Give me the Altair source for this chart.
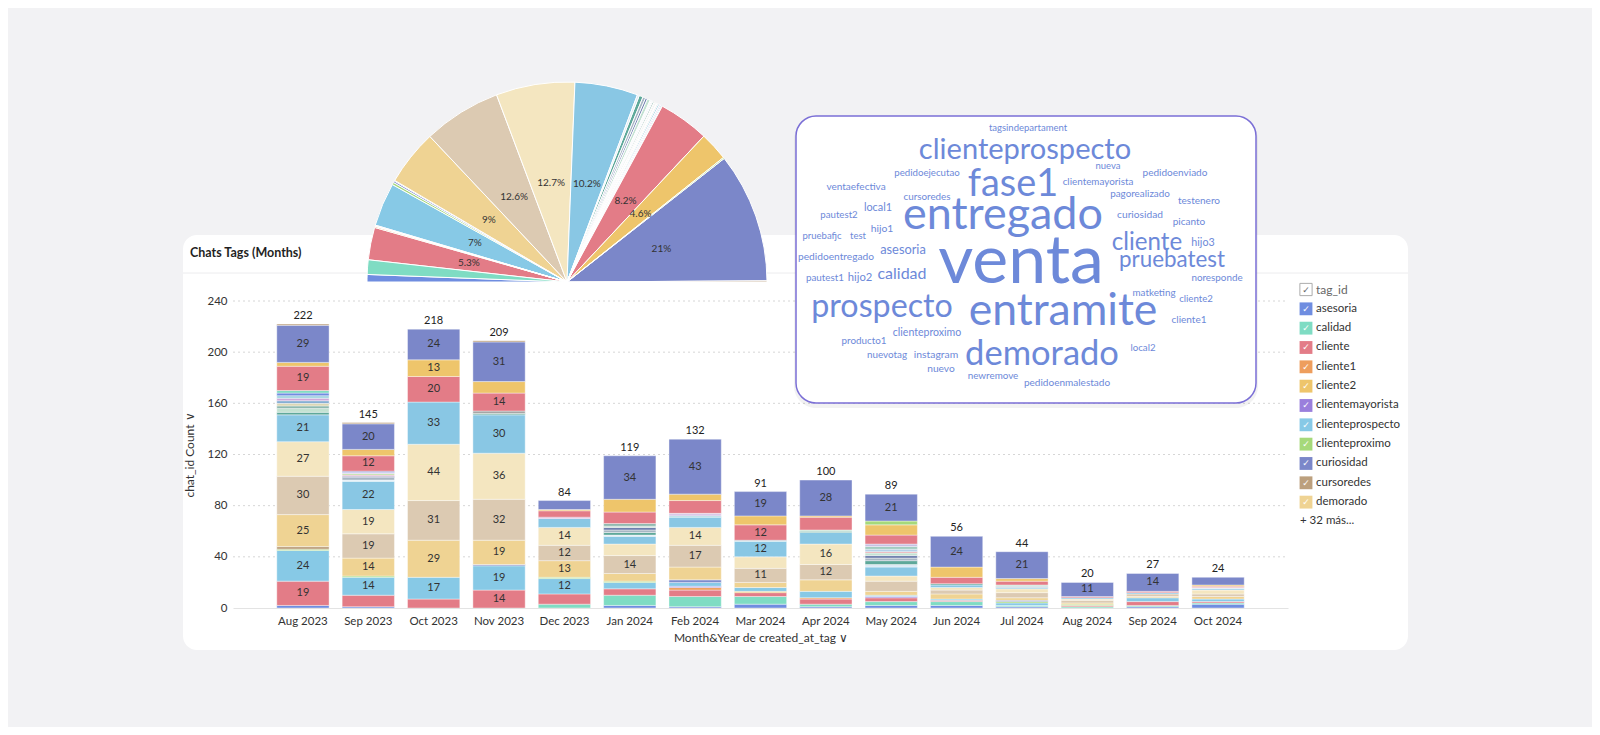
import altair as alt
import pandas as pd

# ---------------- data ----------------
months = ["Aug 2023", "Sep 2023", "Oct 2023", "Nov 2023", "Dec 2023", "Jan 2024", "Feb 2024",
          "Mar 2024", "Apr 2024", "May 2024", "Jun 2024", "Jul 2024", "Aug 2024", "Sep 2024", "Oct 2024"]

tags = ["asesoria", "calidad", "cliente", "cliente1", "cliente2", "clientemayorista", "clienteprospecto",
        "clienteproximo", "curiosidad", "cursoredes", "demorado", "entramite", "entregado", "fase1",
        "hijo1", "hijo2", "hijo3", "instagram", "local1", "local2", "matketing", "newremove", "noresponde",
        "nueva", "nuevo", "nuevotag", "pagorealizado", "pautest1", "pautest2", "pedidoejecutao",
        "pedidoenmalestado", "pedidoentregado", "pedidoenviado", "picanto", "producto1", "prospecto",
        "pruebafjc", "pruebatest", "tagsindepartament", "test", "testenero", "venta", "ventaefectiva"]

aug_2023 = {"asesoria": 2, "cliente": 19, "clienteprospecto": 24, "clienteproximo": 1, "cursoredes": 2,
            "demorado": 25, "entramite": 30, "entregado": 27, "fase1": 21, "hijo2": 2, "local1": 3, "nuevo": 2,
            "nuevotag": 2, "pautest1": 2, "pedidoenmalestado": 2, "pedidoentregado": 2, "picanto": 2,
            "producto1": 2, "prospecto": 19, "pruebatest": 3, "venta": 29, "ventaefectiva": 1}
sep_2023 = {"asesoria": 1, "cliente": 9, "clienteprospecto": 14, "clienteproximo": 1, "demorado": 14,
            "entramite": 19, "entregado": 19, "fase1": 22, "hijo1": 1, "hijo3": 2, "instagram": 1, "pautest2": 1,
            "pedidoejecutao": 1, "pedidoenviado": 1, "picanto": 1, "prospecto": 12, "pruebatest": 5,
            "venta": 20, "ventaefectiva": 1}
oct_2023 = {"cliente": 7, "clienteprospecto": 17, "demorado": 29, "entramite": 31, "entregado": 44,
            "fase1": 33, "prospecto": 20, "pruebatest": 13, "venta": 24}
nov_2023 = {"cliente": 14, "clienteprospecto": 19, "curiosidad": 1, "demorado": 19, "entramite": 32,
            "entregado": 36, "fase1": 30, "hijo2": 1, "pagorealizado": 2, "prospecto": 14, "pruebatest": 9,
            "venta": 31, "ventaefectiva": 1}
dec_2023 = {"calidad": 3, "cliente": 8, "clienteprospecto": 12, "clienteproximo": 1, "demorado": 13,
            "entramite": 12, "entregado": 14, "fase1": 7, "pedidoenmalestado": 1, "prospecto": 5,
            "pruebatest": 1, "venta": 7}
jan_2024 = {"asesoria": 2, "calidad": 8, "cliente": 5, "clienteprospecto": 5, "clienteproximo": 1,
            "demorado": 6, "entramite": 14, "entregado": 9, "fase1": 6, "hijo1": 1, "hijo2": 2, "hijo3": 2,
            "instagram": 2, "local1": 1, "nuevo": 2, "prospecto": 9, "pruebatest": 10, "venta": 34}
feb_2024 = {"asesoria": 1, "calidad": 8, "cliente": 5, "cliente1": 2, "clientemayorista": 1,
            "clienteprospecto": 3, "curiosidad": 2, "demorado": 10, "entramite": 17, "entregado": 14,
            "fase1": 8, "pedidoentregado": 1, "pedidoenviado": 2, "prospecto": 10, "pruebatest": 5, "venta": 43}
mar_2024 = {"asesoria": 3, "calidad": 6, "cliente": 3, "cliente2": 1, "clienteprospecto": 3, "demorado": 4,
            "entramite": 11, "entregado": 9, "fase1": 12, "pedidoentregado": 1, "prospecto": 12,
            "pruebatest": 7, "venta": 19}
apr_2024 = {"asesoria": 1, "calidad": 2, "cliente": 4, "cliente1": 1, "clienteprospecto": 5, "demorado": 9,
            "entramite": 12, "entregado": 16, "fase1": 9, "hijo2": 1, "local1": 1, "prospecto": 10,
            "pruebatest": 1, "venta": 28}
may_2024 = {"asesoria": 2, "calidad": 3, "cliente": 3, "clientemayorista": 1, "clienteprospecto": 1,
            "demorado": 3, "entramite": 8, "entregado": 4, "fase1": 7, "hijo1": 2, "hijo2": 3, "hijo3": 2,
            "instagram": 2, "local1": 2, "local2": 1, "matketing": 2, "newremove": 2, "noresponde": 2,
            "prospecto": 7, "pruebatest": 8, "testenero": 3, "venta": 21}
jun_2024 = {"asesoria": 2, "calidad": 3, "cliente": 1, "clienteprospecto": 1, "demorado": 4, "entramite": 3,
            "entregado": 2, "fase1": 2, "hijo2": 1, "prospecto": 5, "pruebatest": 8, "venta": 24}
jul_2024 = {"asesoria": 1, "calidad": 1, "clienteprospecto": 2, "clienteproximo": 1, "curiosidad": 1,
            "demorado": 2, "entramite": 4, "entregado": 3, "fase1": 1, "hijo3": 1, "local1": 1,
            "prospecto": 3, "pruebatest": 2, "venta": 21}
aug_2024 = {"calidad": 1, "cliente": 1, "clienteproximo": 1, "demorado": 1, "entramite": 2, "entregado": 1,
            "fase1": 1, "prospecto": 1, "venta": 11}
sep_2024 = {"asesoria": 1, "calidad": 1, "cliente": 3, "clienteprospecto": 3, "demorado": 1, "entramite": 2,
            "fase1": 1, "prospecto": 1, "venta": 14}
oct_2024 = {"asesoria": 3, "calidad": 1, "cliente": 1, "clienteprospecto": 2, "demorado": 2, "entramite": 2,
            "entregado": 3, "fase1": 1, "hijo1": 1, "prospecto": 1, "pruebatest": 1, "venta": 6}

month_counts = [aug_2023, sep_2023, oct_2023, nov_2023, dec_2023, jan_2024, feb_2024, mar_2024,
                apr_2024, may_2024, jun_2024, jul_2024, aug_2024, sep_2024, oct_2024]

y_ticks = [0, 40, 80, 120, 160, 200, 240]

# word cloud words and their layout (page pixel centres)
cloud_words = ["tagsindepartament", "clienteprospecto", "nueva", "pedidoenviado", "pedidoejecutao", "fase1",
               "clientemayorista", "ventaefectiva", "cursoredes", "pagorealizado", "testenero", "local1",
               "entregado", "curiosidad", "pautest2", "picanto", "hijo1", "pruebafjc", "test", "cliente",
               "hijo3", "asesoria", "pedidoentregado", "venta", "pruebatest", "pautest1", "hijo2", "calidad",
               "noresponde", "matketing", "prospecto", "entramite", "cliente2", "cliente1", "clienteproximo",
               "producto1", "local2", "nuevotag", "instagram", "demorado", "nuevo", "newremove",
               "pedidoenmalestado"]
cloud_x = [1028, 1025, 1108, 1175, 927, 1013, 1098, 856, 927, 1140, 1199, 878, 1003, 1140, 839, 1189, 882,
           822, 858, 1147, 1203, 903, 836, 1021, 1172, 825, 860, 902, 1217, 1154, 882, 1063, 1196, 1189, 927,
           864, 1143, 887, 936, 1042, 941, 993, 1067]
cloud_y = [128, 150, 166, 173, 173, 185, 182, 187, 197, 194, 201, 208, 216, 215, 215, 222, 229, 236, 236,
           243, 243, 250, 257, 263, 260, 278, 278, 274, 278, 293, 307, 312, 299, 320, 333, 341, 348, 355,
           355, 355, 369, 376, 383]

palette = ["#6f8de0", "#7fdcc3", "#e37c87", "#ee9e5d", "#eec56b", "#9a7fdc", "#87c9e6", "#a6d97a",
           "#7b87c9", "#bca07e", "#efd393", "#dccab2", "#f4e6c0", "#89c7e4", "#dbe9f4", "#5ea89a",
           "#a7b6c4", "#6f7fae", "#c3e2d2", "#e8a1a7", "#b4d0e8", "#9dc9bd", "#c8c0e2", "#f3c7a5",
           "#8db8ae", "#dcd7b5", "#a5a5a5", "#7ea9d1", "#e7b9c9", "#b6d990", "#cfa8da", "#a0d3e0",
           "#d8cae9"]

chart_title = "Chats Tags (Months)"
x_title = "Month&Year de created_at_tag ∨"
y_title = "chat_id Count ∨"
legend_title = "tag_id"
legend_shown = 11

# ---------------- tables ----------------
rows = []
for m, d in zip(months, month_counts):
    for t, c in d.items():
        rows.append({"month": m, "tag": t, "idx": tags.index(t), "count": c})
df = pd.DataFrame(rows)

tag_totals = df.groupby("tag")["count"].sum().to_dict()
words_df = pd.DataFrame({"word": cloud_words, "px": cloud_x, "py": cloud_y})
words_df["count"] = [tag_totals.get(w, 0) for w in cloud_words]

legend_df = pd.DataFrame({"tag": tags[:legend_shown], "row": list(range(1, legend_shown + 1))})
one = pd.DataFrame({"a": [0]})

# ---------------- layout helpers ----------------
W, H = 1055, 307
OX, OY = 233, 301  # page position of the plot area


def vx(px):
    return px - OX


def vy(py):
    return py - OY


CS = alt.Scale(domain=tags, range=[palette[i % len(palette)] for i in range(len(tags))])
XS = alt.Scale(type="band", domain=months, paddingInner=0.2, paddingOuter=0.67)
YS = alt.Scale(domain=[0, 240], nice=False)
PX = alt.Scale(domain=[OX, OX + W], range=[0, W], nice=False, zero=False)
PY = alt.Scale(domain=[OY, OY + H], range=[0, H], nice=False, zero=False)
LY = alt.Scale(domain=[0, 12], range=[vy(289.5), vy(289.5 + 12 * 19.33)], nice=False, zero=False)

# ---------------- layers ----------------
card = alt.Chart(one).mark_rect(fill="white", cornerRadius=14).encode(
    x=alt.value(vx(183)), x2=alt.value(vx(1408)), y=alt.value(vy(235)), y2=alt.value(vy(650)))
header_line = alt.Chart(one).mark_rule(color="#ececee", strokeWidth=1).encode(
    x=alt.value(vx(183)), x2=alt.value(vx(1408)), y=alt.value(vy(273)))
header_text = alt.Chart(one).mark_text(align="left", baseline="middle", fontSize=12.5, fontWeight="bold",
                                       color="#1f1f1f").encode(
    x=alt.value(vx(190)), y=alt.value(vy(253)), text=alt.value(chart_title))

grid = alt.Chart(pd.DataFrame({"v": y_ticks[1:]})).mark_rule(color="#d6d6d6", strokeDash=[2, 3]).encode(
    y=alt.Y("v:Q", scale=YS, axis=None), x=alt.value(0), x2=alt.value(W))

stacked = alt.Chart(df).transform_stack(
    stack="count", groupby=["month"], as_=["y0", "y1"], sort=[alt.SortField("idx", order="ascending")])

bars = stacked.mark_bar(stroke="white", strokeWidth=0.4).encode(
    x=alt.X("month:N", scale=XS, axis=alt.Axis(
        labelAngle=0, grid=False, ticks=False, domainColor="#e3e3e3", labelPadding=7, labelFontSize=11.5,
        labelColor="#333", title=x_title, titleFontSize=12, titleFontWeight="normal", titleColor="#333",
        titlePadding=6, zindex=1)),
    y=alt.Y("y1:Q", scale=YS, axis=alt.Axis(
        values=y_ticks, grid=False, domain=False, ticks=False, labelPadding=6, labelFontSize=11.5,
        labelColor="#333", title=y_title, titleFontSize=12, titleFontWeight="normal", titleColor="#333",
        titlePadding=10, zindex=1)),
    y2="y0:Q",
    color=alt.Color("tag:N", scale=CS, legend=None),
)

seg_labels = stacked.transform_filter("datum.count >= 11").transform_calculate(
    ymid="(datum.y0 + datum.y1) / 2").mark_text(fontSize=11, color="#333", baseline="middle").encode(
    x=alt.X("month:N", scale=XS, axis=None, bandPosition=0.5),
    y=alt.Y("ymid:Q", scale=YS, axis=None), text="count:Q")

totals = alt.Chart(df).transform_aggregate(total="sum(count)", groupby=["month"]).mark_text(
    fontSize=11, color="#222", baseline="bottom", dy=-3).encode(
    x=alt.X("month:N", scale=XS, axis=None, bandPosition=0.5),
    y=alt.Y("total:Q", scale=YS, axis=None), text="total:Q")

# legend
leg_sw = alt.Chart(legend_df).mark_square(size=165, filled=True, opacity=1).encode(
    x=alt.value(vx(1306)), y=alt.Y("row:Q", scale=LY, axis=None),
    color=alt.Color("tag:N", scale=CS, legend=None))
leg_check = alt.Chart(legend_df).mark_text(text="✓", color="white", fontSize=9, font="DejaVu Sans",
                                           baseline="middle").encode(
    x=alt.value(vx(1306)), y=alt.Y("row:Q", scale=LY, axis=None))
leg_lab = alt.Chart(legend_df).mark_text(align="left", baseline="middle", fontSize=11.5, color="#333").encode(
    x=alt.value(vx(1316)), y=alt.Y("row:Q", scale=LY, axis=None), text="tag:N")
head_df = pd.DataFrame({"row": [0], "lab": [legend_title]})
leg_head_box = alt.Chart(head_df).mark_square(size=150, filled=False, color="#8a8a8a", strokeWidth=1).encode(
    x=alt.value(vx(1306)), y=alt.Y("row:Q", scale=LY, axis=None))
leg_head_chk = alt.Chart(head_df).mark_text(text="✓", color="#666", fontSize=9, font="DejaVu Sans",
                                            baseline="middle").encode(
    x=alt.value(vx(1306)), y=alt.Y("row:Q", scale=LY, axis=None))
leg_head_lab = alt.Chart(head_df).mark_text(align="left", baseline="middle", fontSize=12, color="#666").encode(
    x=alt.value(vx(1316)), y=alt.Y("row:Q", scale=LY, axis=None), text="lab:N")
more_df = pd.DataFrame({"row": [12], "lab": [f"+ {len(tags) - legend_shown} más..."]})
leg_more = alt.Chart(more_df).mark_text(align="left", baseline="middle", fontSize=11.5, color="#333").encode(
    x=alt.value(vx(1300)), y=alt.Y("row:Q", scale=LY, axis=None), text="lab:N")

# half pie
pie_base = alt.Chart(df).transform_aggregate(total="sum(count)", groupby=["tag", "idx"]).transform_window(
    cum="sum(total)", sort=[alt.SortField("idx", order="ascending")], frame=[None, 0]
).transform_joinaggregate(grand="sum(total)").transform_calculate(
    t1="-PI / 2 + PI * datum.cum / datum.grand",
    t0="-PI / 2 + PI * (datum.cum - datum.total) / datum.grand",
    pct="datum.total / datum.grand")

PCX, PCY, PR = vx(567), vy(282), 200
arcs = pie_base.mark_arc(radius=PR, stroke="white", strokeWidth=1).encode(
    theta=alt.Theta("t0:Q", scale=None), theta2="t1:Q",
    x=alt.value(PCX), y=alt.value(PCY),
    color=alt.Color("tag:N", scale=CS, legend=None))
pie_labels = pie_base.transform_filter("datum.pct >= 0.04").transform_calculate(
    tm="(datum.t0 + datum.t1) / 2", lbl="toString(round(datum.pct * 1000) / 10) + '%'").mark_text(
    radius=100, fontSize=10, color="#333", baseline="middle").encode(
    theta=alt.Theta("tm:Q", scale=None), x=alt.value(PCX), y=alt.value(PCY), text="lbl:N")

# word cloud
wc_shadow = alt.Chart(one).mark_rect(fill="#000", opacity=0.05, cornerRadius=22).encode(
    x=alt.value(vx(794)), x2=alt.value(vx(1258)), y=alt.value(vy(118)), y2=alt.value(vy(408)))
wc_card = alt.Chart(one).mark_rect(fill="white", stroke="#7b6fd6", strokeWidth=1.5, cornerRadius=20).encode(
    x=alt.value(vx(796)), x2=alt.value(vx(1256)), y=alt.value(vy(116)), y2=alt.value(vy(403)))
wc_words = alt.Chart(words_df).mark_text(baseline="middle", color="#6d89d9").encode(
    x=alt.X("px:Q", scale=PX, axis=None), y=alt.Y("py:Q", scale=PY, axis=None),
    size=alt.Size("count:Q", scale=alt.Scale(domain=[0, 332], range=[9.5, 68]), legend=None),
    text="word:N")

chart = alt.layer(
    card, header_line, header_text, grid, bars, seg_labels, totals,
    leg_sw, leg_check, leg_lab, leg_head_box, leg_head_chk, leg_head_lab, leg_more,
    arcs, pie_labels, wc_shadow, wc_card, wc_words,
).resolve_scale(
    x="independent", y="independent", color="independent", size="independent", theta="independent"
).properties(
    width=W, height=H,
    padding={"left": OX - 8, "top": OY - 8, "right": 1592 - (OX + W), "bottom": 727 - (OY + H)},
    autosize=alt.AutoSizeParams(type="none"),
).configure(
    background="#f2f2f4", font="Lato"
).configure_view(
    stroke=None
)

chart.save("out.html", embed_options={"renderer": "svg", "actions": False})
